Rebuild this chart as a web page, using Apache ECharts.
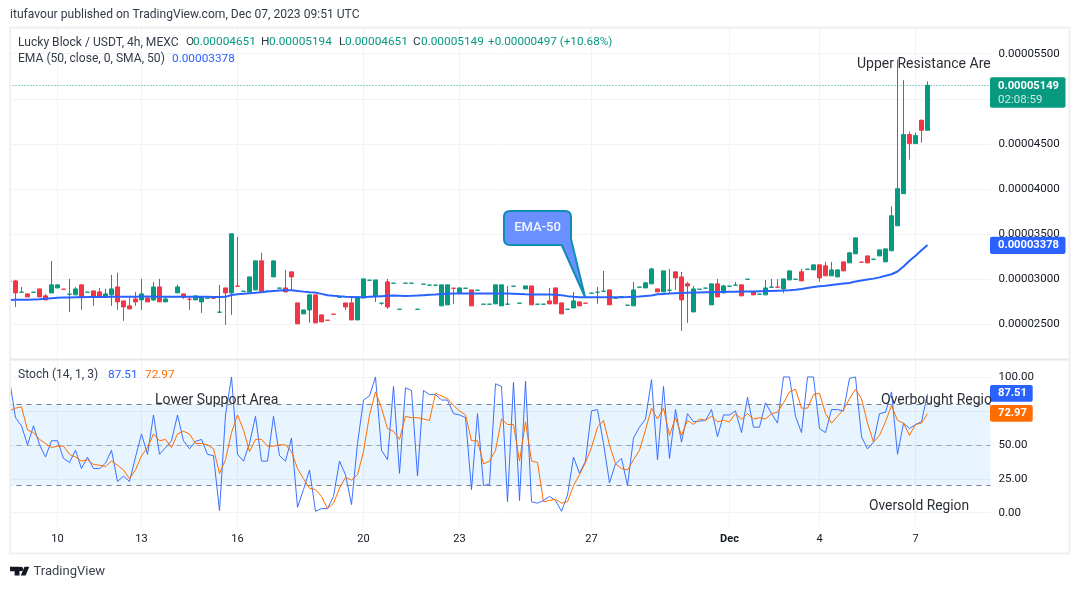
<!DOCTYPE html>
<html><head><meta charset="utf-8">
<style>html,body{margin:0;padding:0;background:#fff}#c{width:1080px;height:589px}</style>
<script src="https://cdn.jsdelivr.net/npm/echarts@6/dist/echarts.min.js"></script>
</head><body><div id="c"></div>
<script>
const opens=[2976,2981,2855,2837,2855,2892,2815,2848,2903,2889,2833,2826,2937,2855,2870,2859,2803,2826,2914,2759,2704,2781,2770,2792,2770,2914,2748,2807,2848,2837,2778,2770,2748,2789,2790,2633,2903,2848,2923,2866,2859,2881,3203,2866,3025,2900,2903,3081,2737,2615,2659,2826,2604,2545,2612,2800,2737,2737,2548,2792,2988,2815,2733,2970,2955,2666,2955,2955,2666,2944,2933,2933,2704,2715,2900,2848,2899,2881,2877,2722,2722,2726,2704,2722,2922,2733,2892,2925,2722,2722,2759,2903,2737,2666,2681,2748,2734,2844,2855,2866,2881,2789,2807,2711,2704,2911,2903,2948,2892,2859,2877,3081,3025,2948,2637,2888,2900,2715,2948,2848,2922,2933,2937,2999,2859,2833,2826,2911,2912,2892,2992,2999,3081,3110,3103,3159,3148,3037,3025,3192,3181,3281,3189,3258,3221,3258,3192,3315,3592,3948,4603,4503,4762,4651];
const closes=[2977,2848,2856,2803,2856,2803,2770,2937,2937,2888,2834,2892,2800,2856,2800,2800,2837,2892,2748,2692,2670,2748,2837,2748,2914,2748,2781,2808,2914,2800,2777,2815,2803,2790,2789,2634,2848,3503,2922,2867,3025,3203,2859,2867,3203,2901,2859,3025,2504,2659,2826,2515,2526,2544,2611,2801,2692,2548,2803,3003,2989,2992,2734,2692,2956,2667,2956,2956,2667,2945,2934,2934,2937,2937,2899,2903,2900,2704,2878,2723,2723,2937,2937,2723,2923,2734,2925,2715,2723,2723,2726,2726,2615,2667,2759,2704,2733,2845,2856,2867,2715,2790,2808,2712,2881,2912,2959,3114,2859,3092,2878,3014,2770,2925,2892,2889,2901,2948,2803,2925,2923,2934,2815,3000,2826,2834,2903,2912,2911,3003,3092,3000,2981,3111,3159,3014,3037,3103,3103,3092,3292,3458,3188,3181,3222,3325,3336,3703,4003,4603,4503,4592,4651,5149];
const lows=[2976,2692,2852,2803,2855,2803,2770,2848,2903,2888,2637,2826,2659,2855,2704,2800,2803,2704,2659,2537,2670,2704,2659,2748,2759,2748,2748,2807,2848,2781,2659,2770,2626,2789,2789,2633,2493,2604,2922,2866,2859,2881,2859,2866,3025,2900,2859,2870,2504,2615,2515,2515,2526,2544,2611,2800,2659,2548,2548,2792,2988,2748,2715,2670,2955,2666,2955,2955,2666,2944,2933,2933,2704,2715,2726,2848,2899,2704,2877,2722,2722,2726,2704,2722,2922,2733,2892,2715,2722,2722,2726,2726,2615,2666,2681,2704,2733,2844,2726,2866,2715,2789,2807,2711,2704,2911,2903,2948,2859,2859,2848,2881,2426,2515,2637,2888,2900,2715,2803,2848,2922,2933,2815,2999,2826,2833,2826,2911,2911,2848,2992,2999,2981,3110,3103,2970,3037,3037,3025,3092,3181,3281,3188,3181,3221,3258,3192,3315,3592,3948,4325,4503,4514,4651];
const highs=[2977,2992,2914,2837,2856,2892,2837,3203,2937,2889,3003,2914,2937,2856,2870,2903,2892,3048,3070,2759,2815,2859,3003,2792,2970,3003,2815,2808,2937,2837,2815,2815,2803,2790,2790,2937,2903,3503,3469,2867,3025,3203,3292,2867,3203,2901,3103,3081,2737,2659,2826,2826,2604,2545,2612,2801,2737,2803,2803,3003,2989,2992,2734,3003,2956,2667,2956,2956,2667,2945,2934,2934,2937,2937,2900,2903,2900,2881,2878,2723,2723,2937,2937,2925,2923,2734,2925,2925,2723,2723,2903,2903,2737,2667,2859,2748,2734,2845,2914,3092,2881,2790,2808,2712,2970,2912,2970,3125,2892,3092,3114,3081,3081,2970,2925,2889,2901,2948,3003,2937,2923,2970,2937,3000,2859,2834,2992,3003,3003,3003,3092,3000,3114,3111,3159,3159,3192,3192,3103,3192,3303,3458,3189,3258,3222,3325,3336,3807,5435,5206,4636,4625,4769,5194];
const ema=[2770,2771,2772,2773,2776,2778,2782,2788,2794,2796,2798,2799,2800,2801,2802,2803,2803,2804,2805,2806,2806,2806,2807,2807,2806,2806,2806,2806,2805,2805,2805,2804,2804,2804,2803,2803,2804,2824,2832,2838,2844,2849,2855,2863,2870,2874,2877,2878,2870,2862,2855,2851,2837,2822,2815,2810,2806,2803,2800,2800,2804,2808,2812,2816,2818,2816,2814,2815,2818,2822,2826,2830,2835,2838,2840,2842,2842,2840,2842,2842,2842,2842,2842,2840,2838,2835,2832,2830,2830,2830,2830,2826,2822,2812,2805,2800,2800,2800,2800,2800,2800,2800,2800,2801,2804,2808,2814,2820,2832,2836,2840,2844,2848,2850,2852,2853,2855,2856,2858,2859,2860,2861,2862,2863,2864,2866,2868,2870,2872,2874,2878,2884,2892,2902,2912,2921,2928,2936,2944,2951,2958,2975,2986,2996,3006,3020,3037,3055,3085,3140,3205,3260,3320,3378];
const stochK=[98,70,64,50,64,50,41,53,53,40,37,46,32.5,41,32.5,32.5,36.5,46,23,27,23,41,58,43,72,43,48,53,72,53,47,52.5,54,43,42,1.5,72,100,43,38,51,71,38,38,71,42,38,55,4,17,31.5,1,3,3,12,38,28,6,51,83,86,100,46,39,93,29,92,90,27,90,87,87,83,83,73,72,70,17,73,20,21,95,93,8,96,9,97,8,7,9,12,9,1,13,41,29,38,75,76,51,22,36,40,20,55,63,69,98,39,93,40,76,52,73,67,67.5,68,76,56,72,72,75,59,85,63,63,81,73,66,100,100,71,59,100,100,62,59,76,76,75,99,100,56,47,52,73,74,89,43,66,62,65,67,87.51];
const stochD=[75,77,78,61,59,54,51,48,49,49,43,41,38,39,35.5,35,34,38,35,31.5,25,31.5,42,48,58,53,54,48,58,60,58,51,51,50,47,29,39,59,72,61,45,54,54,49,49,50,50,45,32.5,25,18,17,12,3,7,18,26,24,28,45,72,89,77,62,60,54,71,70,70,69,68,88,86,84,79,75,72,53,53,36,38,46,69,65,65,38,67,38,37,8,9,10,7,8,20,28,37,48,63,68,50,36,32.5,31.5,39,46,61,77,69,77,57,70,57,68,65,69,68,71,67,68,67,73,69,73,69,70,69,73,74,81,89,91,77,77,87,88,73,66,71,76,84,91,84,66,52,57,67,79,68,66,57,65,66,72.97];
const tickIndex=[8,22,38,59,75,97,120,135,151];
const tickLabels=['10','13','16','20','23','27','Dec','4','7'];
const priceTicks=[2500,3000,3500,4000,4500,5000,5500];
const stochTicks=[0,25,50,75,100];
const stochLevels=[20,50,80];
const lastClose=5149;

const BAND_COUNT=164;
const categories=Array.from({length:BAND_COUNT},(_,i)=>{const k=tickIndex.indexOf(i);return k>=0?tickLabels[k]:'';});
const candles=opens.map((o,i)=>[o,closes[i],lows[i],highs[i]]);
const GREEN='#089981',RED='#f23645',BLUE='#2962ff',ORANGE='#ff6d00',GRID='#f0f3fa',TXT='#131722',FRAME='#eff0f5';
const FONT='Roboto, "Liberation Sans", sans-serif';
const isTick=(i)=>categories[i]!=='';

echarts.graphic.registerShape('emaCallout',echarts.graphic.extendPath('M510 211 H565 Q571 211 571 217 V239 L585 297 L561.7 245 H510 Q504 245 504 239 V217 Q504 211 510 211 Z',{}));
echarts.graphic.registerShape('tvLogo',echarts.graphic.extendPath('M10 566.8 H19.5 V575.6 H14.6 V571.2 H10 Z M21 566.8 A2.2 2.2 0 1 1 21 571.2 A2.2 2.2 0 1 1 21 566.8 Z M24.5 566.8 H29.3 L25.6 575.6 H20.8 Z',{}));

function xAxis(gridIndex,showLabel){return {type:'category',gridIndex,data:categories,boundaryGap:true,
  axisLine:{show:false},axisTick:{show:false},
  splitLine:{show:true,alignWithLabel:true,interval:isTick,lineStyle:{color:GRID,width:1}},
  axisLabel:{show:showLabel,interval:isTick,color:TXT,fontSize:11,fontFamily:FONT,margin:8,
    formatter:v=>v==='Dec'?'{b|Dec}':v,rich:{b:{fontWeight:'bold',fontSize:11,color:TXT,fontFamily:FONT}}}};}
function yAxis(gridIndex,min,max,ticks,fmt){return {type:'value',gridIndex,position:'right',min,max,scale:false,
  axisLine:{show:false},axisTick:{show:false,customValues:ticks},
  splitLine:{show:true,lineStyle:{color:GRID,width:1}},
  axisLabel:{customValues:ticks,color:TXT,fontSize:11.5,fontFamily:FONT,margin:8,formatter:fmt,showMinLabel:true,showMaxLabel:true}};}

function txt(x,y,text,color,size){return {type:'text',x,y,z:120,silent:true,
  style:{text,fill:color,font:(size||12)+'px '+FONT,textVerticalAlign:'middle',textAlign:'left'}};}
function rect(x,y,w,h,fill,z,r){return {type:'rect',z:z||110,silent:true,shape:{x,y,width:w,height:h,r:r||0},style:{fill}};}
function tag(x,y,w,h,fill,text){return [rect(x,y,w,h,fill,115,2),
  {type:'text',x:x+8,y:y+h/2,z:120,silent:true,style:{text,fill:'#fff',font:'bold 11.2px '+FONT,textAlign:'left',textVerticalAlign:'middle'}}];}

const graphics=[
  rect(0,0,9,589,'#fff',105),
  {type:'rect',z:112,silent:true,shape:{x:10,y:27.5,width:1059.5,height:526},style:{fill:'none',stroke:FRAME,lineWidth:2}},
  {type:'line',z:112,silent:true,shape:{x1:10,y1:359.5,x2:1069,y2:359.5},style:{stroke:'#e6e8ee',lineWidth:2}},
  txt(10,15,'itufavour published on TradingView.com, Dec 07, 2023 09:51 UTC','#333b47',12.1),
  txt(18,42.5,'Lucky Block / USDT, 4h, MEXC','#333b47',12.1),
  txt(186,42.5,'O','#333b47',11.8),txt(193,42.5,'0.00004651',GREEN,11.8),
  txt(261,42.5,'H','#333b47',11.8),txt(269,42.5,'0.00005194',GREEN,11.8),
  txt(339,42.5,'L','#333b47',11.8),txt(345,42.5,'0.00004651',GREEN,11.8),
  txt(413,42.5,'C','#333b47',11.8),txt(421,42.5,'0.00005149',GREEN,11.8),
  txt(488,42.5,'+0.00000497 (+10.68%)',GREEN,11.7),
  txt(18,59,'EMA (50, close, 0, SMA, 50)','#333b47',12.1),
  txt(172,59,'0.00003378',BLUE,11.8),
  txt(18,375,'Stoch (14, 1, 3)','#333b47',12.1),
  txt(108,375,'87.51',BLUE,11.8),txt(145,375,'72.97',ORANGE,11.8),
  txt(857,64,'Upper Resistance Are','#2b2f36',14),
  txt(155,400.5,'Lower Support Area','#2b2f36',14),
  txt(881,400.5,'Overbought Regio','#2b2f36',14),
  txt(869,506.5,'Oversold Region','#2b2f36',13.8),
  {type:'emaCallout',z:118,silent:true,shape:{},style:{fill:'#6a90ff',stroke:'#0f8db3',lineWidth:2}},
  {type:'text',x:537.5,y:228,z:120,silent:true,style:{text:'EMA-50',fill:'#f2f5ff',font:'500 13px '+FONT,textAlign:'center',textVerticalAlign:'middle'}},
  ...tag(990,77.3,75.5,30.4,GREEN,''),
  {type:'text',x:998,y:86.5,z:120,silent:true,style:{text:'0.00005149',fill:'#fff',font:'bold 11.2px '+FONT,textVerticalAlign:'middle'}},
  {type:'text',x:998,y:100,z:120,silent:true,style:{text:'02:08:59',fill:'#cdeae4',font:'11.5px '+FONT,textVerticalAlign:'middle'}},
  ...tag(990,236.8,75.5,17.2,BLUE,'0.00003378'),
  ...tag(990,385,42.7,16.8,BLUE,'87.51'),
  ...tag(990,405,42.7,16.8,ORANGE,'72.97'),
  {type:'tvLogo',z:120,silent:true,shape:{},style:{fill:'#131722'}},
  txt(33.5,572,'TradingView','#3c424d',13)
];

const chart=echarts.init(document.getElementById('c'),null,{renderer:'canvas'});
chart.setOption({
  animation:false,backgroundColor:'#fff',
  grid:[{left:6.5,width:984,top:28,height:330},{left:6.5,width:984,top:360,height:166}],
  xAxis:[xAxis(0,false),xAxis(1,true)],
  yAxis:[yAxis(0,2126,5785,priceTicks,v=>(v*1e-8).toFixed(8)),yAxis(1,-9.8,112.5,stochTicks,v=>v.toFixed(2))],
  graphic:{elements:graphics},
  series:[
    {name:'Lucky Block / USDT',type:'candlestick',xAxisIndex:0,yAxisIndex:0,data:candles,barWidth:5,z:3,
      itemStyle:{color:GREEN,color0:RED,borderColor:GREEN,borderColor0:RED,borderWidth:1},
      markLine:{silent:true,symbol:'none',label:{show:false},animation:false,
        lineStyle:{color:'rgba(8,153,129,.9)',type:[1,2],width:1},data:[{yAxis:lastClose}]}},
    {name:'EMA',type:'line',xAxisIndex:0,yAxisIndex:0,data:ema,symbol:'none',z:4,lineStyle:{color:BLUE,width:2}},
    {name:'%K',type:'line',xAxisIndex:1,yAxisIndex:1,data:stochK,symbol:'none',z:4,lineStyle:{color:BLUE,width:1,opacity:.9},
      markArea:{silent:true,itemStyle:{color:'rgba(33,150,243,0.1)'},data:[[{yAxis:stochLevels[0]},{yAxis:stochLevels[2]}]]},
      markLine:{silent:true,symbol:'none',label:{show:false},animation:false,data:[
        {yAxis:stochLevels[0],lineStyle:{color:'#787b86',type:[5,5],width:1}},
        {yAxis:stochLevels[1],lineStyle:{color:'rgba(120,123,134,.65)',type:[5,5],width:1}},
        {yAxis:stochLevels[2],lineStyle:{color:'#787b86',type:[5,5],width:1}}]}},
    {name:'%D',type:'line',xAxisIndex:1,yAxisIndex:1,data:stochD,symbol:'none',z:5,lineStyle:{color:ORANGE,width:1}}
  ]
});
</script></body></html>
